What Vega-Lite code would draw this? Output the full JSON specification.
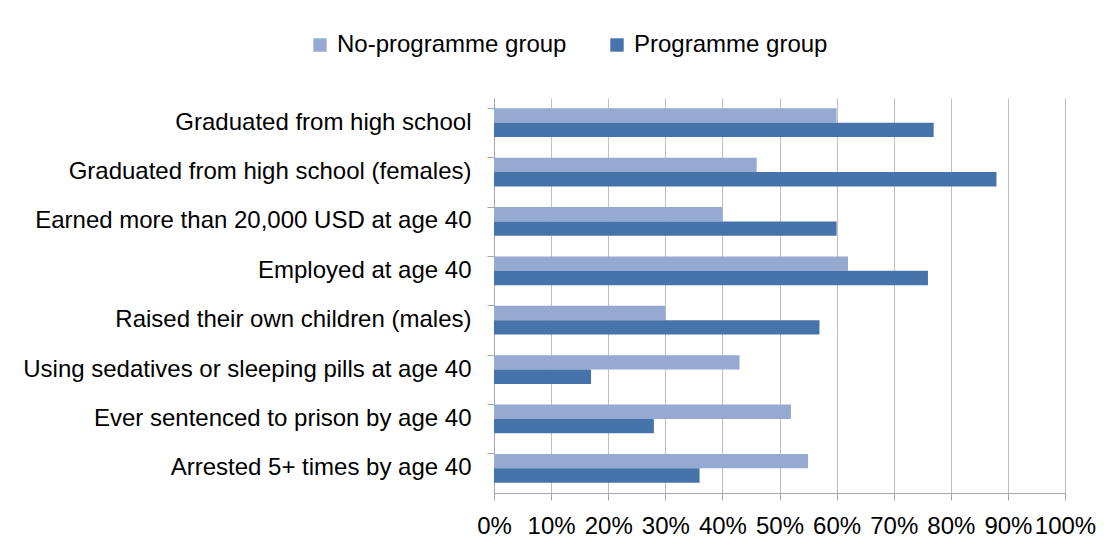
{
  "$schema": "https://vega.github.io/schema/vega-lite/v6.json",
  "width": 571,
  "height": 395,
  "autosize": {"type": "none"},
  "padding": {"left": 494, "top": 98, "right": 51, "bottom": 63},
  "background": "white",
  "config": {
    "font": "Liberation Sans",
    "view": {"stroke": null}
  },
  "data": {
    "values": [
      {"outcome": "Graduated from high school", "group": "No-programme group", "pct": 0.60},
      {"outcome": "Graduated from high school", "group": "Programme group", "pct": 0.77},
      {"outcome": "Graduated from high school (females)", "group": "No-programme group", "pct": 0.46},
      {"outcome": "Graduated from high school (females)", "group": "Programme group", "pct": 0.88},
      {"outcome": "Earned more than 20,000 USD at age 40", "group": "No-programme group", "pct": 0.40},
      {"outcome": "Earned more than 20,000 USD at age 40", "group": "Programme group", "pct": 0.60},
      {"outcome": "Employed at age 40", "group": "No-programme group", "pct": 0.62},
      {"outcome": "Employed at age 40", "group": "Programme group", "pct": 0.76},
      {"outcome": "Raised their own children (males)", "group": "No-programme group", "pct": 0.30},
      {"outcome": "Raised their own children (males)", "group": "Programme group", "pct": 0.57},
      {"outcome": "Using sedatives or sleeping pills at age 40", "group": "No-programme group", "pct": 0.43},
      {"outcome": "Using sedatives or sleeping pills at age 40", "group": "Programme group", "pct": 0.17},
      {"outcome": "Ever sentenced to prison by age 40", "group": "No-programme group", "pct": 0.52},
      {"outcome": "Ever sentenced to prison by age 40", "group": "Programme group", "pct": 0.28},
      {"outcome": "Arrested 5+ times by age 40", "group": "No-programme group", "pct": 0.55},
      {"outcome": "Arrested 5+ times by age 40", "group": "Programme group", "pct": 0.36}
    ]
  },
  "mark": {"type": "bar"},
  "encoding": {
    "y": {
      "field": "outcome",
      "type": "nominal",
      "sort": null,
      "scale": {"paddingInner": 0.42, "paddingOuter": 0.21},
      "axis": {
        "title": null,
        "bandPosition": 0,
        "domainColor": "#A6A6A6",
        "tickColor": "#A6A6A6",
        "tickSize": 7,
        "labelPadding": 16,
        "labelFontSize": 24,
        "labelColor": "#000000",
        "labelLimit": 600
      }
    },
    "yOffset": {
      "field": "group",
      "sort": ["No-programme group", "Programme group"]
    },
    "x": {
      "field": "pct",
      "type": "quantitative",
      "scale": {"domain": [0, 1], "nice": false},
      "axis": {
        "title": null,
        "format": ".0%",
        "values": [0, 0.1, 0.2, 0.3, 0.4, 0.5, 0.6, 0.7, 0.8, 0.9, 1.0],
        "grid": true,
        "gridColor": "#BFBFBF",
        "domainColor": "#A6A6A6",
        "tickColor": "#A6A6A6",
        "tickSize": 7,
        "labelPadding": 14,
        "labelFontSize": 24,
        "labelColor": "#000000",
        "labelFlush": false,
        "labelOverlap": false
      }
    },
    "color": {
      "field": "group",
      "type": "nominal",
      "scale": {
        "domain": ["No-programme group", "Programme group"],
        "range": ["#95A9D1", "#4674AA"]
      },
      "legend": {
        "title": null,
        "orient": "none",
        "direction": "horizontal",
        "legendX": -186,
        "legendY": -65,
        "symbolType": "square",
        "symbolSize": 180,
        "symbolStrokeWidth": 0,
        "labelFontSize": 24,
        "labelColor": "#000000",
        "labelLimit": 400,
        "columnPadding": 38,
        "labelOffset": 5
      }
    }
  }
}
